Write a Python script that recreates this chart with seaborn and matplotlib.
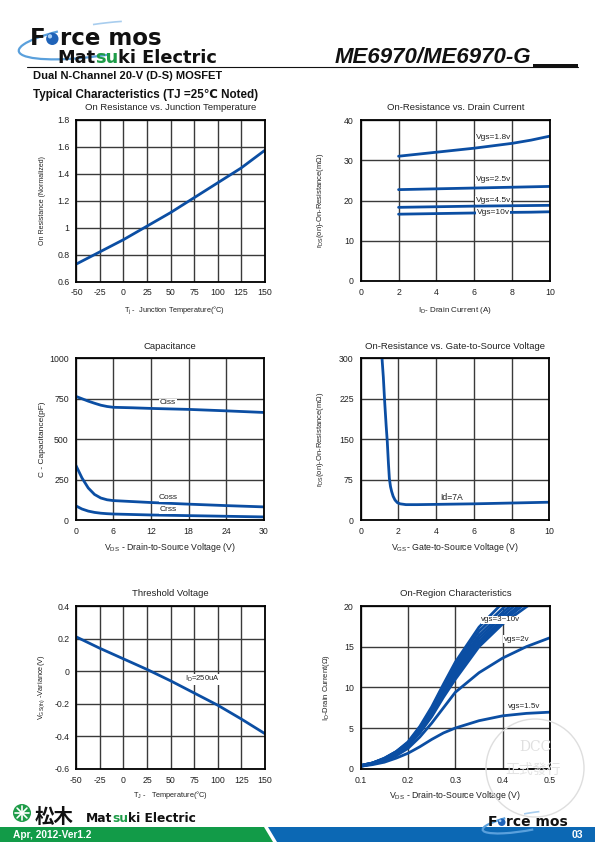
import matplotlib
matplotlib.use("Agg")
import matplotlib.pyplot as plt
import seaborn as sns
from matplotlib.patches import Polygon, Circle, Arc, Rectangle
from matplotlib.transforms import IdentityTransform
from matplotlib.lines import Line2D

W, H = 595, 842

# ---------------- data ----------------
tj_temp = [-50, -25, 0, 25, 50, 75, 100, 125, 150]
ron_normalized = [0.73, 0.82, 0.91, 1.01, 1.11, 1.22, 1.33, 1.44, 1.57]

drain_current = [2, 4, 6, 8, 9, 10]
ron_vgs_1v8 = [31.0, 32.0, 33.0, 34.2, 35.0, 36.0]
ron_vgs_2v5 = [22.7, 22.9, 23.1, 23.3, 23.4, 23.5]
ron_vgs_4v5 = [18.3, 18.45, 18.6, 18.7, 18.75, 18.8]
ron_vgs_10v = [16.6, 16.75, 16.9, 17.05, 17.1, 17.2]
ron_id_labels = ["Vgs=1.8v", "Vgs=2.5v", "Vgs=4.5v", "Vgs=10v"]

cap_vds = [0, 1, 2, 3, 4, 5, 6, 9, 12, 18, 24, 30]
cap_ciss = [765, 750, 735, 722, 710, 702, 697, 694, 690, 684, 675, 665]
cap_coss = [340, 260, 198, 158, 136, 125, 120, 114, 108, 98, 89, 81]
cap_crss = [88, 68, 55, 47, 42, 39, 37, 34, 31, 27, 23, 19]
cap_labels = ["Ciss", "Coss", "Crss"]

gate_vgs = [1.13, 1.2, 1.27, 1.35, 1.41, 1.47, 1.52, 1.58, 1.64, 1.72, 1.82,
            1.95, 2.09, 2.4, 3, 4, 6, 8, 10]
ron_vs_vgs = [300, 265, 220, 175, 145, 105, 77, 62, 53, 44, 37,
              32, 30, 28.5, 28.5, 29, 30, 31.5, 33]
ron_vgs_label = "Id=7A"

vth_temp = [-50, -25, 0, 25, 50, 75, 100, 125, 150]
vth_variance = [0.21, 0.14, 0.075, 0.01, -0.06, -0.135, -0.21, -0.295, -0.385]
vth_label = r"I$_\mathrm{D}$=250uA"

onreg_vds = [0.1, 0.125, 0.15, 0.175, 0.2, 0.225, 0.25, 0.275, 0.3, 0.35, 0.4, 0.45, 0.5]
id_vgs_1v5 = [0.3, 0.5, 0.8, 1.3, 1.9, 2.7, 3.6, 4.4, 5.0, 5.9, 6.5, 6.8, 6.95]
id_vgs_2v = [0.3, 0.6, 1.0, 1.6, 2.5, 3.9, 5.6, 7.5, 9.4, 11.8, 13.6, 15.0, 16.1]
id_vgs_3v = [0.3, 0.6, 1.1, 1.8, 2.8, 4.4, 6.4, 8.8, 11.0, 15.0, 17.8, 19.9, 21.8]
id_vgs_4v = [0.35, 0.65, 1.15, 1.9, 2.9, 4.55, 6.6, 9.1, 11.4, 15.3, 18.1, 20.4, 22.5]
id_vgs_5v = [0.35, 0.65, 1.2, 1.95, 3.0, 4.7, 6.85, 9.4, 11.8, 15.6, 18.4, 20.8, 23.0]
id_vgs_6v = [0.35, 0.7, 1.2, 2.0, 3.1, 4.85, 7.05, 9.7, 12.2, 16.0, 18.8, 21.3, 23.5]
id_vgs_7v = [0.4, 0.7, 1.25, 2.05, 3.15, 4.95, 7.25, 9.95, 12.5, 16.4, 19.2, 21.8, 24.0]
id_vgs_8v = [0.4, 0.7, 1.25, 2.1, 3.2, 5.05, 7.4, 10.2, 12.8, 16.9, 19.7, 22.3, 24.5]
id_vgs_10v = [0.4, 0.7, 1.3, 2.1, 3.3, 5.2, 7.6, 10.4, 13.1, 17.4, 20.4, 23.0, 25.0]
onreg_labels = ["vgs=3~10v", "vgs=2v", "vgs=1.5v"]

# ---------------- style ----------------
sns.set_style("white")
FAM = ["Liberation Sans", "DejaVu Sans", "Noto Sans CJK JP"]
plt.rcParams["font.family"] = FAM
plt.rcParams["mathtext.fontset"] = "custom"
plt.rcParams["mathtext.rm"] = "Liberation Sans"
plt.rcParams["mathtext.it"] = "Liberation Sans:italic"
plt.rcParams["mathtext.bf"] = "Liberation Sans:bold"

BLUE = "#0b4ea3"
GRID = "#3a3a3a"
LW = 2.0

fig = plt.figure(figsize=(W / 100, H / 100), dpi=100)
fig.patch.set_facecolor("white")
IDT = IdentityTransform()


def make_ax(box):
    l, t, r, b = box
    return fig.add_axes([l / W, 1 - b / H, (r - l) / W, (b - t) / H])


def style_ax(ax, xlim, ylim, xticks, xtl, yticks, ytl):
    ax.set_xlim(*xlim)
    ax.set_ylim(*ylim)
    ax.set_xticks(xticks)
    ax.set_xticklabels(xtl)
    ax.set_yticks(yticks)
    ax.set_yticklabels(ytl)
    ax.grid(True, color=GRID, lw=1.0)
    ax.set_axisbelow(True)
    for s in ax.spines.values():
        s.set_color("black")
        s.set_linewidth(1.3)
        s.set_visible(True)
    ax.tick_params(length=0, pad=5, labelsize=6.3, colors="#222222")


def place_text(ax, box, title, title_y, xlabel, xlab_y, ylabel, ylab_x,
               ysize=5.5, xsize=5.8, xlab_x=None):
    l, t, r, b = box
    w, h = r - l, b - t
    ax.set_title(title, fontsize=6.8, y=(b - title_y) / h, va="center", pad=0,
                 color="#222222")
    ax.set_xlabel(xlabel, fontsize=xsize, color="#222222")
    xx = ((xlab_x if xlab_x is not None else (l + r) / 2) - l) / w
    ax.xaxis.set_label_coords(xx, -(xlab_y - b) / h)
    ax.xaxis.label.set_va("center")
    ax.set_ylabel(ylabel, fontsize=ysize, color="#222222")
    ax.yaxis.set_label_coords((ylab_x - l) / w, 0.5)
    ax.yaxis.label.set_va("center")


def line(ax, x, y):
    sns.lineplot(x=x, y=y, ax=ax, color=BLUE, lw=LW, estimator=None,
                 sort=False, legend=False)


def label(ax, x, y, s, size=6.0, box=True):
    kw = dict(ha="center", va="center", fontsize=size, color="#222222", zorder=5)
    if box:
        kw["bbox"] = dict(facecolor="white", edgecolor="none", pad=0.4)
    ax.text(x, y, s, **kw)


# ---------------- plot 1 ----------------
B1 = (76.5, 119.5, 264.5, 281.5)
ax1 = make_ax(B1)
line(ax1, tj_temp, ron_normalized)
style_ax(ax1, (-50, 150), (0.6, 1.8), tj_temp, [str(v) for v in tj_temp],
         [0.6, 0.8, 1.0, 1.2, 1.4, 1.6, 1.8], ["0.6", "0.8", "1", "1.2", "1.4", "1.6", "1.8"])
place_text(ax1, B1, "On Resistance vs. Junction Temperature", 108,
           r"T$_\mathrm{j}$ -  Junction Temperature(°C)", 310,
           "On Resistance (Normalized)", 43, ysize=5.0, xsize=5.3, xlab_x=175)

# ---------------- plot 2 ----------------
B2 = (360.7, 120, 550, 281)
ax2 = make_ax(B2)
for ys in (ron_vgs_1v8, ron_vgs_2v5, ron_vgs_4v5, ron_vgs_10v):
    line(ax2, drain_current, ys)
style_ax(ax2, (0, 10), (0, 40), [0, 2, 4, 6, 8, 10], ["0", "2", "4", "6", "8", "10"],
         [0, 10, 20, 30, 40], ["0", "10", "20", "30", "40"])
place_text(ax2, B2, "On-Resistance vs. Drain Current", 108,
           r"I$_\mathrm{D}$- Drain Current (A)", 310,
           r"r$_\mathrm{DS}$(on)-On-Resistance(mΩ)", 320)
label(ax2, 7.0, 35.6, ron_id_labels[0])
label(ax2, 7.0, 25.1, ron_id_labels[1])
label(ax2, 7.0, 20.1, ron_id_labels[2])
label(ax2, 7.0, 17.1, ron_id_labels[3])

# ---------------- plot 3 ----------------
B3 = (75.7, 358.3, 264, 520)
ax3 = make_ax(B3)
for ys in (cap_ciss, cap_coss, cap_crss):
    line(ax3, cap_vds, ys)
style_ax(ax3, (0, 30), (0, 1000), [0, 6, 12, 18, 24, 30], ["0", "6", "12", "18", "24", "30"],
         [0, 250, 500, 750, 1000], ["0", "250", "500", "750", "1000"])
place_text(ax3, B3, "Capacitance", 347,
           r"V$_\mathrm{DS}$ - Drain-to-Source Voltage (V)", 547,
           "C - Capacitance(pF)", 43, ysize=6.0, xsize=6.3)
label(ax3, 14.7, 724, cap_labels[0])
label(ax3, 14.8, 138, cap_labels[1])
label(ax3, 14.8, 64, cap_labels[2])

# ---------------- plot 4 ----------------
B4 = (360.7, 358.3, 549.3, 520)
ax4 = make_ax(B4)
line(ax4, gate_vgs, ron_vs_vgs)
style_ax(ax4, (0, 10), (0, 300), [0, 2, 4, 6, 8, 10], ["0", "2", "4", "6", "8", "10"],
         [0, 75, 150, 225, 300], ["0", "75", "150", "225", "300"])
place_text(ax4, B4, "On-Resistance vs. Gate-to-Source Voltage", 347,
           r"V$_\mathrm{GS}$- Gate-to-Source Voltage (V)", 547,
           r"r$_\mathrm{DS}$(on)-On-Resistance(mΩ)", 320, xsize=6.3)
label(ax4, 4.8, 42, ron_vgs_label, size=6.2, box=False)

# ---------------- plot 5 ----------------
B5 = (76.3, 606, 265, 768.7)
ax5 = make_ax(B5)
line(ax5, vth_temp, vth_variance)
style_ax(ax5, (-50, 150), (-0.6, 0.4), vth_temp, [str(v) for v in vth_temp],
         [-0.6, -0.4, -0.2, 0, 0.2, 0.4], ["-0.6", "-0.4", "-0.2", "0", "0.2", "0.4"])
place_text(ax5, B5, "Threshold Voltage", 593,
           r"T$_\mathrm{J}$ -   Temperature(°C)", 795,
           r"V$_\mathrm{GS(th)}$ -Variance(V)", 42, ysize=5.3, xsize=5.3)
label(ax5, 84, -0.05, vth_label, size=5.5)

# ---------------- plot 6 ----------------
B6 = (360.7, 606, 550, 768.7)
ax6 = make_ax(B6)
for ys in (id_vgs_1v5, id_vgs_2v, id_vgs_3v, id_vgs_4v, id_vgs_5v, id_vgs_6v,
           id_vgs_7v, id_vgs_8v, id_vgs_10v):
    line(ax6, onreg_vds, ys)
style_ax(ax6, (0.1, 0.5), (0, 20), [0.1, 0.2, 0.3, 0.4, 0.5], ["0.1", "0.2", "0.3", "0.4", "0.5"],
         [0, 5, 10, 15, 20], ["0", "5", "10", "15", "20"])
place_text(ax6, B6, "On-Region Characteristics", 593,
           r"V$_\mathrm{DS}$ - Drain-to-Source Voltage (V)", 795,
           r"I$_\mathrm{D}$-Drain Current(Ω)", 327, xsize=6.3)
label(ax6, 0.396, 18.3, onreg_labels[0], size=5.8)
label(ax6, 0.43, 15.9, onreg_labels[1], size=5.8)
label(ax6, 0.446, 7.7, onreg_labels[2], size=5.8)

# ---------------- page decoration ----------------
renderer = fig.canvas.get_renderer()


def text_w(s, size, family, weight="bold", style="normal"):
    t = fig.text(0, 0, s, transform=IDT, fontsize=size, family=family,
                 weight=weight, style=style)
    w = t.get_window_extent(renderer).width
    t.remove()
    return w


def run(x0, base, parts, size, family, weight="bold", style="normal"):
    # coloured pieces of one word run: each piece starts where its prefix ends
    prefix = ""
    for s, col in parts:
        prefix += s
        start = x0 + text_w(prefix, size, family, weight, style) - text_w(s, size, family, weight, style)
        fig.text(start, H - base, s, transform=IDT, fontsize=size, color=col,
                 family=family, weight=weight, style=style, va="baseline", ha="left")


def forcemos(x, base, size, swoosh):
    (cx, cy, ew, eh, ang) = swoosh
    fig.add_artist(Arc((cx, H - cy), ew, eh, angle=ang, theta1=160, theta2=300,
                       transform=IDT, color="#5aa0dc", lw=1.6))
    fig.add_artist(Arc((cx, H - cy), ew, eh, angle=ang, theta1=30, theta2=100,
                       transform=IDT, color="#a8cdee", lw=1.2))
    wf = text_w("F", size, "DejaVu Sans")
    fig.text(x, H - base, "F", transform=IDT, fontsize=size, color="#111111",
             family="DejaVu Sans", weight="bold", va="baseline")
    x = x + wf
    px = size * 100 / 72
    r = px * 0.27
    fig.add_artist(Circle((x + r + 0.5, H - base + r), r, transform=IDT,
                          facecolor="#1f63b8", edgecolor="none"))
    fig.add_artist(Circle((x + r * 0.7, H - base + r * 1.4), r * 0.35, transform=IDT,
                          facecolor="#a9d0f5", edgecolor="none"))
    fig.text(x + 2 * r + 1.5, H - base, "rce mos", transform=IDT, fontsize=size,
             color="#111111", family="DejaVu Sans", weight="bold", va="baseline")


# header
forcemos(30, 45, 16.5, (98, 40, 160, 32, 8))
run(57, 63, [("Mat", "#111111"), ("su", "#1e9c48"), ("ki Electric", "#111111")],
    12.8, "DejaVu Sans")
fig.text(335, H - 63, "ME6970/ME6970-G", transform=IDT, fontsize=16, weight="bold",
         style="italic", family="Liberation Sans", color="#111111", va="baseline")
fig.add_artist(Line2D([27, 578], [H - 66.5, H - 66.5], transform=IDT, color="#111111", lw=0.8))
fig.add_artist(Rectangle((533, H - 67.5), 45, 4, transform=IDT, facecolor="#111111",
                         edgecolor="none"))
fig.text(33, H - 79, "Dual N-Channel 20-V (D-S) MOSFET", transform=IDT, fontsize=8,
         weight="bold", family=FAM, color="#111111", va="baseline")
fig.text(33, H - 98, "Typical Characteristics (TJ =25℃ Noted)", transform=IDT,
         fontsize=8.4, weight="bold", family=FAM, color="#111111", va="baseline")

# footer bands
fig.add_artist(Polygon([(0, H - 827), (264, H - 827), (273, H - 842), (0, H - 842)],
                       closed=True, transform=IDT, facecolor="#129b48", edgecolor="none"))
fig.add_artist(Polygon([(268, H - 827), (595, H - 827), (595, H - 842), (277, H - 842)],
                       closed=True, transform=IDT, facecolor="#0c68b4", edgecolor="none"))
fig.text(13, H - 838.5, "Apr, 2012-Ver1.2", transform=IDT, fontsize=7.3, weight="bold",
         family=FAM, color="white", va="baseline")
fig.text(583, H - 838.5, "03", transform=IDT, fontsize=7.5, weight="bold",
         family=FAM, color="white", va="baseline", ha="right")

# footer left logo
fig.add_artist(Circle((22, H - 813), 9, transform=IDT, facecolor="#1e9c48", edgecolor="none"))
for (dx, dy) in [(0, 1), (1, 0), (0.7, 0.7), (0.7, -0.7)]:
    fig.add_artist(Line2D([22 - 7 * dx, 22 + 7 * dx], [H - 813 - 7 * dy, H - 813 + 7 * dy],
                          transform=IDT, color="white", lw=1.2))
fig.text(35, H - 823, "松木", transform=IDT, fontsize=14, weight="bold",
         family=["Noto Sans CJK JP", "DejaVu Sans"], color="#111111", va="baseline")
run(86, 822, [("Mat", "#111111"), ("su", "#1e9c48"), ("ki Electric", "#111111")],
    8.8, "DejaVu Sans")

# footer right logo
forcemos(488, 826, 10, (527, 822, 90, 17, 10))

# stamp watermark
fig.add_artist(Circle((535, H - 768), 49, transform=IDT, facecolor="none",
                      edgecolor="#dedede", lw=1.0, zorder=10))
fig.text(535, H - 747, "DCC", transform=IDT, fontsize=10, family="DejaVu Serif",
         color="#e0e0e0", ha="center", va="center", zorder=10)
fig.text(533, H - 770, "正式發行", transform=IDT, fontsize=10,
         family=["Noto Sans CJK TC", "DejaVu Sans"], color="#e3e3e3",
         ha="center", va="center", zorder=10)

fig.savefig("out.png", dpi=100, facecolor="white")
